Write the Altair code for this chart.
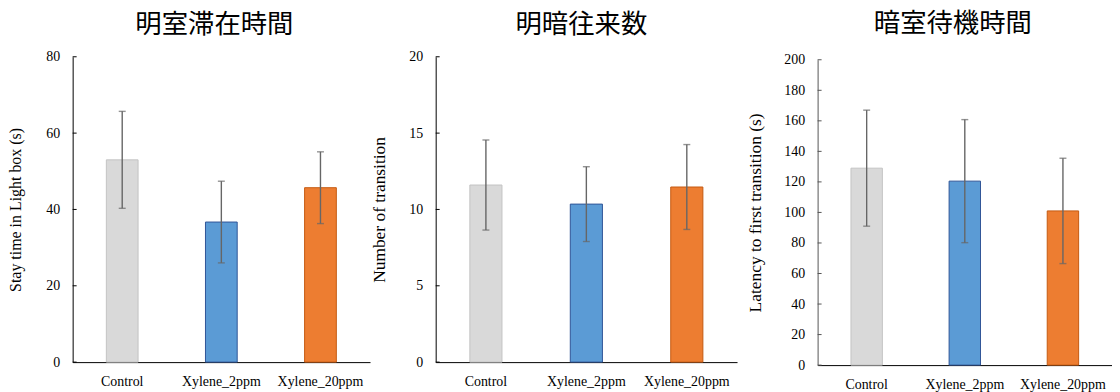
import altair as alt
import pandas as pd

groups = ["Control", "Xylene_2ppm", "Xylene_20ppm"]
fill_colors = ["#d9d9d9", "#5b9bd5", "#ed7d31"]
stroke_colors = ["#c4c4c4", "#2f5597", "#c55a11"]

titles = ["明室滞在時間", "明暗往来数", "暗室待機時間"]
y_titles = ["Stay time in Light box (s)", "Number of transition",
            "Latency to first transition (s)"]

light_mean = [53.0, 36.7, 45.7]
light_err = [12.7, 10.7, 9.4]
trans_mean = [11.6, 10.35, 11.47]
trans_err = [2.95, 2.45, 2.78]
lat_mean = [129.0, 120.5, 101.0]
lat_err = [38.0, 40.3, 34.5]

light_ticks = [0, 20, 40, 60, 80]
trans_ticks = [0, 5, 10, 15, 20]
lat_ticks = [0, 20, 40, 60, 80, 100, 120, 140, 160, 180, 200]

SERIF = "Liberation Serif"
CJK = "Noto Sans CJK JP"
ERR_COLOR = "#666666"


def panel(title, ytitle, means, errs, ticks, width, height, title_dx,
          title_pad, title_size, axis_color, title_offset=11, yrange=None,
          extra_right=0):
    df = pd.DataFrame({
        "group": groups,
        "mean": means,
        "lo": [m - e for m, e in zip(means, errs)],
        "hi": [m + e for m, e in zip(means, errs)],
    })
    tdf = pd.DataFrame({"v": ticks})
    xenc = alt.X(
        "group:N", sort=groups,
        scale=alt.Scale(paddingInner=0.68, paddingOuter=0.34),
        axis=alt.Axis(title=None, labelAngle=0, ticks=False, grid=False,
                      domainColor="black", domainWidth=1,
                      labelFont=SERIF, labelFontSize=14, labelColor="black",
                      labelPadding=13),
    )
    sc = dict(domain=[0, ticks[-1]], nice=False, zero=True)
    if yrange is not None:
        sc["range"] = yrange
    yaxis = alt.Axis(title=ytitle, values=ticks, ticks=False, tickSize=0,
                     grid=False, domainColor=axis_color, domainWidth=1,
                     labelFont=SERIF, labelFontSize=14, labelColor="black",
                     labelPadding=13, labelOverlap=False,
                     titleFont=SERIF, titleFontSize=title_size,
                     titleFontWeight="normal", titleColor="black",
                     titlePadding=title_pad, minExtent=30, maxExtent=30)
    yenc = alt.Y("mean:Q", scale=alt.Scale(**sc), axis=yaxis)
    bars = alt.Chart(df).mark_bar(strokeWidth=1).encode(
        x=xenc, y=yenc,
        color=alt.Color("group:N", scale=alt.Scale(domain=groups, range=fill_colors), legend=None),
        stroke=alt.Stroke("group:N", scale=alt.Scale(domain=groups, range=stroke_colors), legend=None),
    )
    xs = alt.X("group:N", sort=groups)
    rules = alt.Chart(df).mark_rule(color=ERR_COLOR, strokeWidth=1.4).encode(
        x=xs, y=alt.Y("lo:Q", axis=yaxis), y2="hi:Q")
    cap_hi = alt.Chart(df).mark_tick(color=ERR_COLOR, size=7, thickness=1.4).encode(
        x=xs, y=alt.Y("hi:Q", axis=yaxis))
    cap_lo = alt.Chart(df).mark_tick(color=ERR_COLOR, size=7, thickness=1.4).encode(
        x=xs, y=alt.Y("lo:Q", axis=yaxis))
    tickmarks = alt.Chart(tdf).mark_rule(color=axis_color, strokeWidth=1).encode(
        y=alt.Y("v:Q", axis=yaxis), x=alt.value(0), x2=alt.value(4))
    layers = [bars, rules, cap_hi, cap_lo, tickmarks]
    if extra_right:
        spacer = alt.Chart(tdf.head(1)).mark_rule(opacity=0, strokeOpacity=0).encode(
            x=alt.value(width + extra_right), y=alt.value(0), y2=alt.value(1))
        layers.append(spacer)
    return alt.layer(*layers).properties(
        width=width, height=height,
        title=alt.TitleParams(text=title, font=CJK, fontSize=26.5,
                              fontWeight="normal", color="black",
                              anchor="middle", frame="group", dx=title_dx,
                              offset=title_offset),
    )


p1 = panel(titles[0], y_titles[0], light_mean, light_err, light_ticks,
           299, 307, -7, 19, 16, "black")
p2 = panel(titles[1], y_titles[1], trans_mean, trans_err, trans_ticks,
           303, 307, -5, 17.5, 17.5, "black", extra_right=10)
p3 = panel(titles[2], y_titles[2], lat_mean, lat_err, lat_ticks,
           296, 310, -12, 23, 17.5, "#555555", title_offset=15,
           yrange=[310, 3])

chart = alt.hconcat(p1, p2, p3, spacing=0).configure_view(stroke=None).configure_axisY(
    labelOverlap=False
).properties(
    padding={"left": 0, "top": 2, "right": 0, "bottom": 0},
    background="white",
)

chart.save("out.html", embed_options={"renderer": "svg", "actions": False})
